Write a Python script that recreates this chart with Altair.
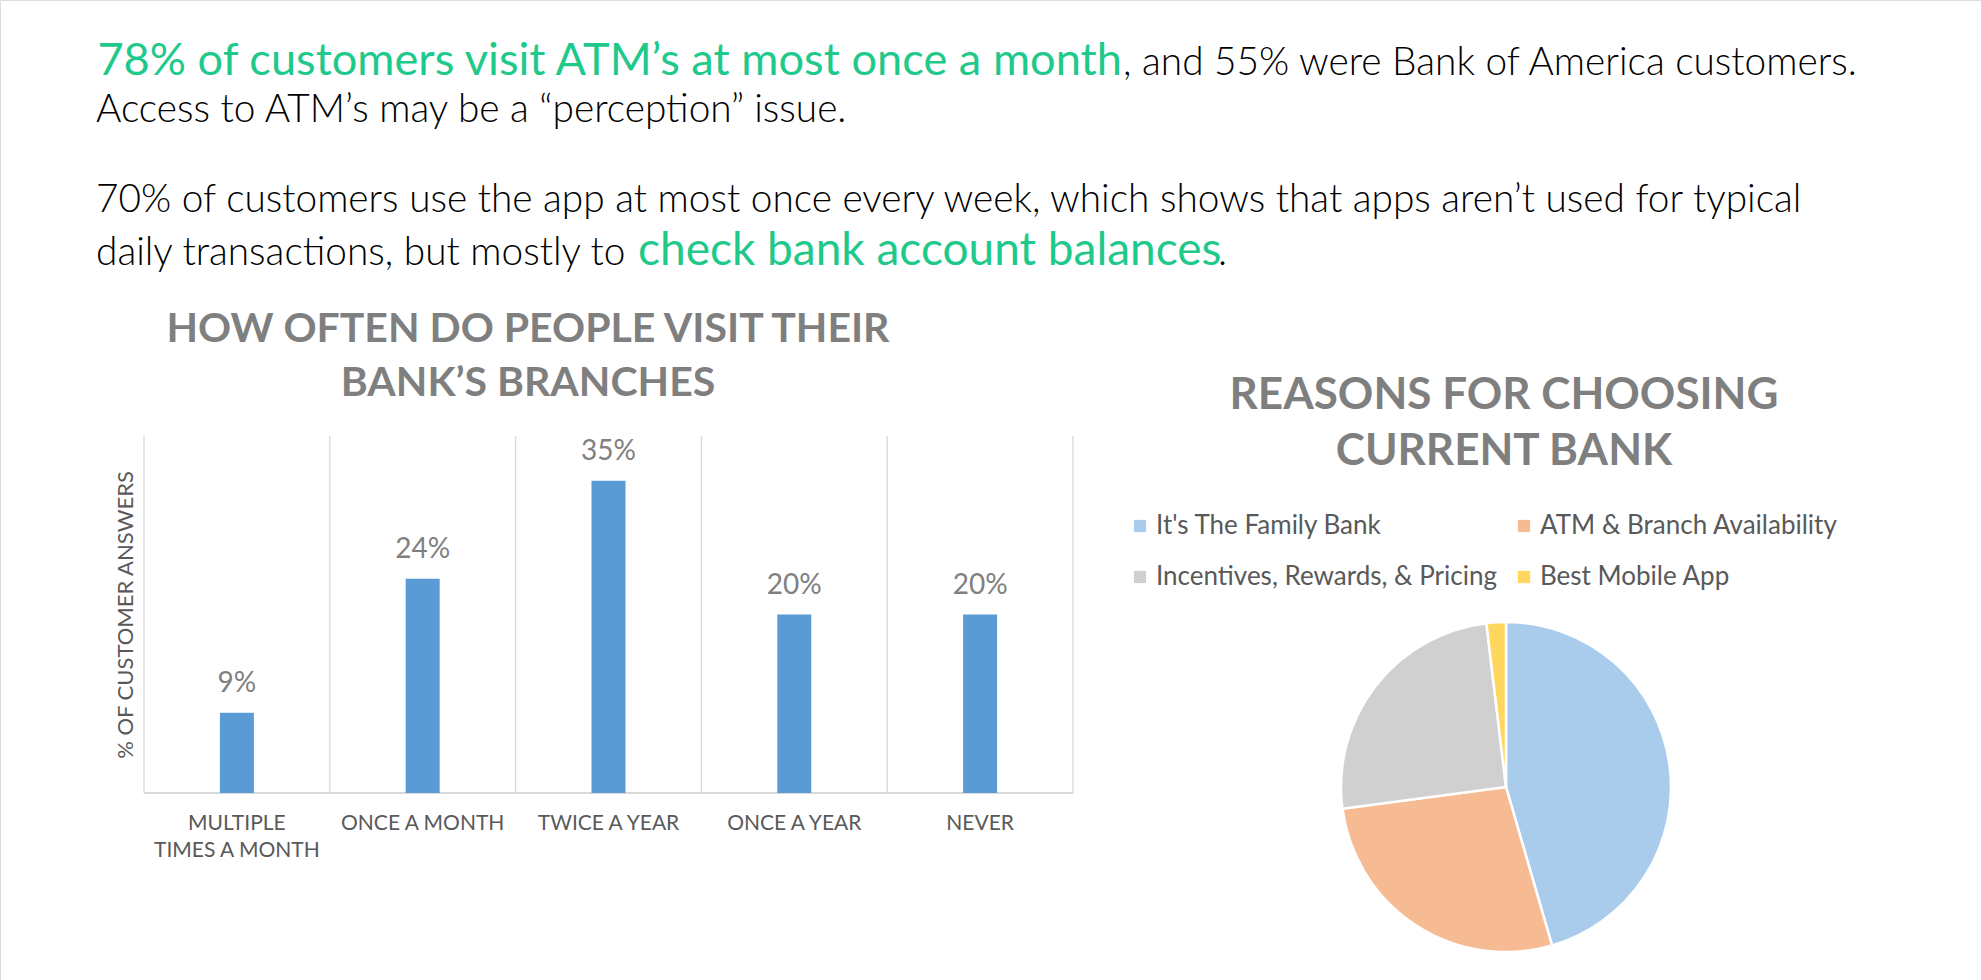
import altair as alt
import pandas as pd

# ---------------- data ----------------
freq_keys = ["Multiple", "Once a month", "Twice a year", "Once a year", "Never"]
freq_labels = ["MULTIPLE\nTIMES A MONTH", "ONCE A MONTH", "TWICE A YEAR", "ONCE A YEAR", "NEVER"]
freq_values = [9, 24, 35, 20, 20]
freq_text = ["9%", "24%", "35%", "20%", "20%"]

reasons = ["It's The Family Bank", "ATM & Branch Availability",
           "Incentives, Rewards, & Pricing", "Best Mobile App"]
reason_shares = [45.5, 27.4, 25.2, 1.9]
reason_colors = ["#a9cbec", "#f6bb93", "#d0d0d0", "#ffd75e"]

header_lines = [
    ("78% of customers visit ATM\u2019s at most once a month", ", and 55% were Bank of America customers."),
    ("Access to ATM\u2019s may be a \u201cperception\u201d issue.",),
    ("70% of customers use the app at most once every week, which shows that apps aren\u2019t used for typical",),
    ("daily transactions, but mostly to ", "check bank account balances", "."),
]

bar_title = "HOW OFTEN DO PEOPLE VISIT THEIR\nBANK\u2019S BRANCHES"
pie_title = "REASONS FOR CHOOSING\nCURRENT BANK"
y_title = "% OF CUSTOMER ANSWERS"

GREEN = "#1ec98b"
FONT = "Lato"

bars_df = pd.DataFrame({"key": freq_keys, "lab": freq_labels, "val": freq_values, "txt": freq_text})
pie_df = pd.DataFrame({"reason": reasons, "share": reason_shares, "ord": list(range(len(reasons)))})
one = pd.DataFrame({"a": [0]})

PLOT_L, PLOT_R, PLOT_T, PLOT_B = 144, 1073, 436, 793
HALF_STEP = (PLOT_R - PLOT_L) / len(freq_keys) / 2

xscale = alt.Scale(type="band", domain=freq_keys, range=[PLOT_L, PLOT_R], paddingInner=0.817, paddingOuter=0.4085)
yscale = alt.Scale(domain=[0, 40], range=[PLOT_B, PLOT_T], nice=False)


def X(**kw):
    return alt.X("key:N", scale=xscale, axis=None, **kw)


# gridlines at category boundaries
grid = alt.Chart(bars_df).mark_rule(color="#d9d9d9", strokeWidth=1.3, xOffset=-HALF_STEP).encode(
    x=X(), y=alt.value(PLOT_T), y2=alt.value(PLOT_B)
)
grid_end = alt.Chart(bars_df).transform_filter(alt.datum.key == "Never").mark_rule(
    color="#d9d9d9", strokeWidth=1.3, xOffset=HALF_STEP
).encode(x=X(), y=alt.value(PLOT_T), y2=alt.value(PLOT_B))

base_line = alt.Chart(one).mark_rule(color="#d9d9d9", strokeWidth=2).encode(
    x=alt.value(PLOT_L), x2=alt.value(PLOT_R), y=alt.value(PLOT_B)
)

bars = alt.Chart(bars_df).mark_bar(color="#5b9bd5").encode(
    x=X(), y=alt.Y("val:Q", scale=yscale, axis=None)
)

bar_labels = alt.Chart(bars_df).mark_text(
    font=FONT, fontSize=28, color="#808080", dy=-29, baseline="middle"
).encode(x=X(), y=alt.Y("val:Q", scale=yscale, axis=None), text="txt:N")

cat_labels = alt.Chart(bars_df).mark_text(
    font=FONT, fontSize=21, color="#595959", lineBreak="\n",
    lineHeight=27, baseline="alphabetic"
).encode(x=X(), y=alt.value(830), text="lab:N")

ytitle = alt.Chart(one).mark_text(
    font=FONT, fontSize=22, color="#595959", angle=270,
    baseline="middle", align="center", text=y_title
).encode(x=alt.value(126), y=alt.value(615))

t_bar = alt.Chart(one).mark_text(
    font=FONT, fontWeight="bold", fontSize=41, color="#7f7f7f",
    lineBreak="\n", lineHeight=54, align="center", baseline="alphabetic", text=bar_title
).encode(x=alt.value(528), y=alt.value(342))

t_pie = alt.Chart(one).mark_text(
    font=FONT, fontWeight="bold", fontSize=44, color="#7f7f7f",
    lineBreak="\n", lineHeight=56, align="center", baseline="alphabetic", text=pie_title
).encode(x=alt.value(1504), y=alt.value(409))


def htext(txt, x, y, color="#000000", size=38.8, weight=300, align="left"):
    return alt.Chart(one).mark_text(
        font=FONT, fontSize=size, fontWeight=weight, color=color, align=align,
        baseline="alphabetic", text=txt
    ).encode(x=alt.value(x), y=alt.value(y))


G = 45.2
header = [
    htext(header_lines[0][0], 1122, 75, GREEN, G, 400, "right"),
    htext(header_lines[0][1], 1123, 75),
    htext(header_lines[1][0], 96, 122),
    htext(header_lines[2][0], 96, 212),
    htext(header_lines[3][0], 96, 265),
    htext(header_lines[3][1], 638, 265, GREEN, 46, 400),
    htext(header_lines[3][2], 1218, 265),
]

pie = alt.Chart(pie_df).mark_arc(radius=165, stroke="white", strokeWidth=2.5).encode(
    theta=alt.Theta("share:Q", stack=True),
    order=alt.Order("ord:Q"),
    color=alt.Color(
        "reason:N",
        scale=alt.Scale(domain=reasons, range=reason_colors),
        legend=alt.Legend(
            title=None, orient="none", legendX=1127, legendY=513, columns=2,
            direction="horizontal",
            symbolType="square", symbolSize=150, symbolStrokeWidth=0,
            labelFont=FONT, labelFontSize=26, labelColor="#595959",
            labelOffset=3, columnPadding=14, rowPadding=25, labelLimit=500,
        ),
    ),
    x=alt.value(1506), y=alt.value(787),
)

chart = alt.layer(
    grid, grid_end, base_line, bars, bar_labels, cat_labels, ytitle, t_bar, t_pie, *header, pie
).properties(
    width=1981, height=980, autosize=alt.AutoSizeParams(type="none"), padding=0
).configure_view(stroke=None).configure(background="white")

chart.save("out.html", embed_options={"renderer": "svg", "actions": False})
